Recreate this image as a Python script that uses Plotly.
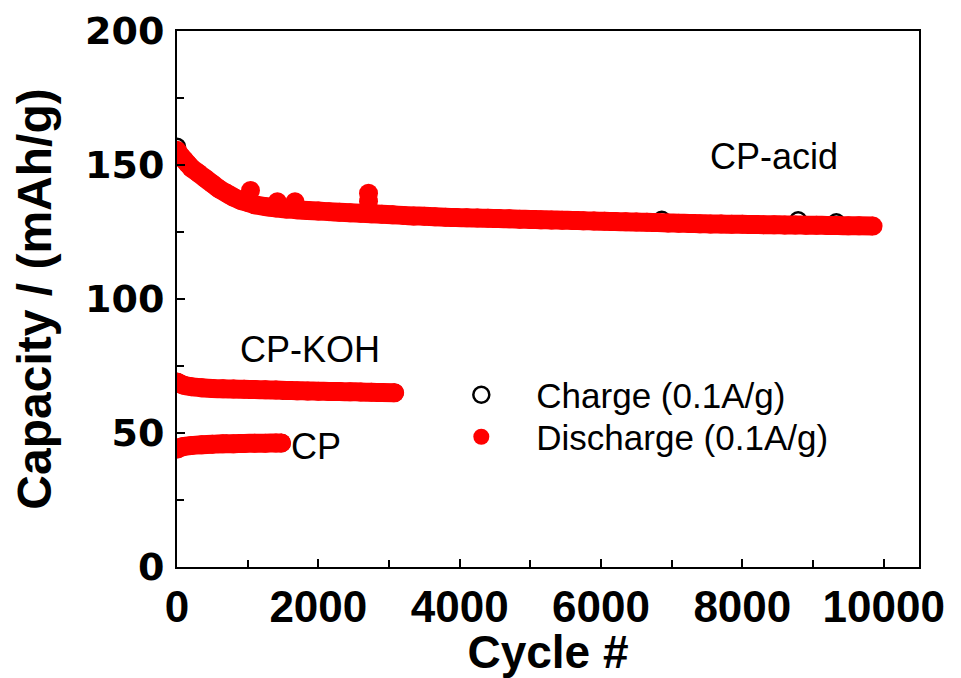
import plotly.graph_objects as go

# ---- data ----
acid_dis_cycle = [0, 50, 100, 150, 200, 300, 400, 500, 600, 700, 800, 900, 1000, 1100, 1250,
                  1400, 1550, 1700, 1850, 2000, 2150, 2300, 2450, 2600, 2750,
                  2900, 3050, 3200, 3350, 3500, 3650, 3800, 3950, 4100, 4250, 4400, 4550, 4700, 4850,
                  5000, 5150, 5300, 5450, 5600, 5750, 5900, 6050, 6200, 6350, 6500, 6650, 6800, 6950,
                  7100, 7250, 7400, 7550, 7700, 7850, 8000, 8150, 8300, 8450, 8600, 8750, 8900, 9050,
                  9200, 9350, 9500, 9650, 9850]
acid_dis_cap = [155.5, 153.5, 152.0, 150.5, 149.0, 147.0, 145.0, 143.0, 141.0, 139.5, 138.0, 136.8, 136.0, 135.2, 134.5,
                134.0, 133.6, 133.3, 133.0, 132.8, 132.6, 132.4, 132.2, 132.0, 131.8,
                131.6, 131.4, 131.2, 131.0, 130.9, 130.7, 130.5, 130.4, 130.3, 130.2, 130.1, 130.0, 129.9, 129.8,
                129.7, 129.6, 129.5, 129.4, 129.3, 129.2, 129.1, 129.0, 128.9, 128.8, 128.7, 128.6, 128.5, 128.4,
                128.3, 128.2, 128.1, 128.0, 127.95, 127.9, 127.85, 127.8, 127.75, 127.7, 127.65, 127.6, 127.55, 127.5,
                127.45, 127.4, 127.35, 127.3, 127.2]
acid_dis_outlier_cycle = [1040, 1420, 1670, 2710, 2710]
acid_dis_outlier_cap = [140.5, 136.3, 136.3, 139.5, 136.5]

acid_chg_cycle = [0, 6860, 8790, 9330]
acid_chg_cap = [156.8, 129.6, 129.4, 128.6]

koh_dis_cycle = [0, 50, 100, 200, 350, 500, 650, 800, 950, 1100, 1250, 1400, 1550, 1700, 1850, 2000,
                 2150, 2300, 2450, 2600, 2750, 2900, 3080]
koh_dis_cap = [69.0, 68.3, 67.8, 67.3, 66.9, 66.6, 66.5, 66.4, 66.3, 66.2, 66.1, 66.0, 65.9, 65.8, 65.7, 65.6,
               65.5, 65.45, 65.4, 65.3, 65.2, 65.1, 65.0]
koh_chg_cycle = [0, 1500, 3080]
koh_chg_cap = [69.0, 65.9, 65.0]

cp_dis_cycle = [0, 50, 100, 200, 350, 500, 650, 800, 950, 1100, 1250, 1400, 1480]
cp_dis_cap = [44.0, 44.6, 45.0, 45.3, 45.6, 45.8, 46.0, 46.0, 46.1, 46.2, 46.2, 46.3, 46.3]
cp_chg_cycle = [0, 700, 1480]
cp_chg_cap = [44.0, 46.0, 46.3]

x_tick_vals = [0, 2000, 4000, 6000, 8000, 10000]
x_tick_text = ["0", "2000", "4000", "6000", "8000", "10000"]
y_tick_vals = [0, 50, 100, 150, 200]
y_tick_text = ["0", "50", "100", "150", "200"]

sample_labels = ["CP-acid", "CP-KOH", "CP"]
series_names = ["Charge (0.1A/g)", "Discharge (0.1A/g)"]

# ---- figure ----
fig = go.Figure()

MS = 19
RED = "#ff0000"
chg_marker = dict(symbol="circle-open", size=16, color="black", line=dict(width=2.5, color="black"))
dis_marker = dict(symbol="circle", size=MS, color=RED, line=dict(width=0))

for i, (cx, cy) in enumerate([(acid_chg_cycle, acid_chg_cap), (koh_chg_cycle, koh_chg_cap), (cp_chg_cycle, cp_chg_cap)]):
    fig.add_trace(go.Scatter(x=cx, y=cy, mode="markers", marker=chg_marker,
                             name=series_names[0], legendgroup="chg", showlegend=(i == 0), legend="legend"))
fig.add_trace(go.Scatter(x=acid_dis_outlier_cycle, y=acid_dis_outlier_cap, mode="markers", marker=dis_marker,
                         name=series_names[1], legendgroup="dis", showlegend=True, legend="legend2"))
for cx, cy in [(acid_dis_cycle, acid_dis_cap), (koh_dis_cycle, koh_dis_cap), (cp_dis_cycle, cp_dis_cap)]:
    fig.add_trace(go.Scatter(x=cx, y=cy, mode="lines+markers", marker=dis_marker,
                             line=dict(color=RED, width=MS, shape="spline", smoothing=0.6),
                             name=series_names[1], legendgroup="dis", showlegend=False, legend="legend2"))

ann_font = dict(family="Liberation Sans, Arial", size=36, color="black")
fig.add_annotation(x=8450, y=153, text=sample_labels[0], showarrow=False, font=ann_font, xref="x", yref="y")
fig.add_annotation(x=1885, y=81, text=sample_labels[1], showarrow=False, font=ann_font, xref="x", yref="y")
fig.add_annotation(x=1970, y=45, text=sample_labels[2], showarrow=False, font=ann_font, xref="x", yref="y")

leg_font = dict(family="Liberation Sans, Arial", size=35, color="black")
fig.update_layout(
    width=953, height=670,
    margin=dict(l=169, r=42, t=23, b=111),
    paper_bgcolor="white", plot_bgcolor="white",
    showlegend=True,
    legend=dict(x=0.336, y=0.321, xanchor="left", yanchor="middle", font=leg_font,
                bgcolor="rgba(0,0,0,0)", itemwidth=100, tracegroupgap=0),
    legend2=dict(x=0.336, y=0.2425, xanchor="left", yanchor="middle", font=leg_font,
                 bgcolor="rgba(0,0,0,0)", itemwidth=100, tracegroupgap=0),
    xaxis=dict(range=[0, 10500], tickmode="array", tickvals=x_tick_vals, ticktext=x_tick_text,
               automargin=False,
               ticks="inside", ticklen=8, tickwidth=1.5, tickcolor="black",
               minor=dict(dtick=1000, ticks="inside", ticklen=7, tickwidth=1.5, tickcolor="black"),
               showline=True, linecolor="black", linewidth=2, mirror=True,
               showgrid=False, zeroline=False,
               tickfont=dict(family="Liberation Sans, Arial", size=44, color="black", weight="bold"),
               title=dict(text="Cycle #", font=dict(family="Liberation Sans, Arial", size=46, color="black", weight="bold"), standoff=4)),
    yaxis=dict(range=[0, 200], tickmode="array", tickvals=y_tick_vals, ticktext=y_tick_text,
               automargin=False, ticklabelstandoff=3,
               ticks="inside", ticklen=8, tickwidth=1.5, tickcolor="black",
               minor=dict(dtick=25, ticks="inside", ticklen=7, tickwidth=1.5, tickcolor="black"),
               showline=True, linecolor="black", linewidth=2, mirror=True,
               showgrid=False, zeroline=False,
               tickfont=dict(family="DejaVu Sans", size=38, color="black", weight="bold"),
               title=dict(text="Capacity / (mAh/g)", font=dict(family="Liberation Sans, Arial", size=48, color="black", weight="bold"), standoff=34)),
)

fig.write_html("out.html")
